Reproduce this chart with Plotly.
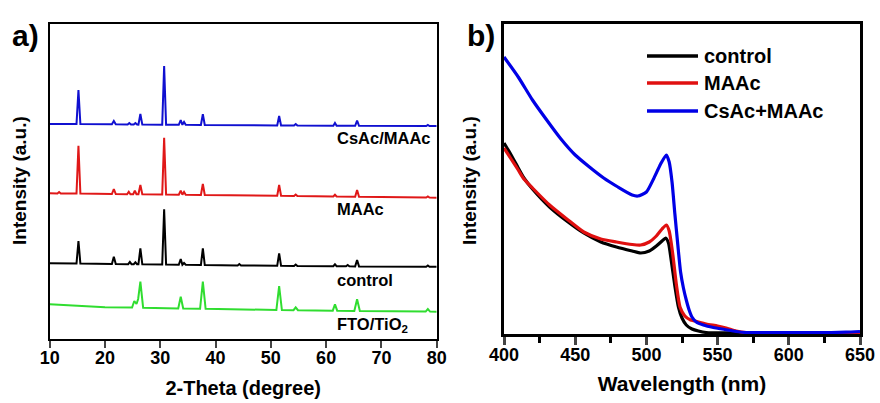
import plotly.graph_objects as go

# ---------------- Panel a: XRD patterns (2-theta, intensity a.u., offset) ----------------
xrd_blue_2theta = [10, 14.85, 15.2, 15.55, 21.25, 21.6, 21.95, 24.1, 24.4, 24.7, 25.2, 25.5, 25.8,
                   26.05, 26.4, 26.75, 30.35, 30.7, 31.05, 33.35, 33.7, 34.0, 34.3, 34.6, 37.35, 37.7,
                   38.05, 51.15, 51.5, 51.85, 54.2, 54.5, 54.8, 61.3, 61.6, 61.9, 65.25, 65.6, 65.95,
                   78.1, 78.4, 78.7, 80]
xrd_blue_int = [215, 215, 249, 215, 214.7, 218, 214.7, 214.5, 216, 214.5, 214.5, 216, 214.5,
                214.4, 225, 214.4, 214.3, 273, 214.3, 214.2, 219, 214.2, 217, 214.2, 214, 224.7,
                214, 213.6, 223, 213.6, 213.5, 215, 213.5, 213.3, 216, 213.3, 213.2, 218.3, 213.2,
                213, 214, 213, 213]

xrd_red_2theta = [10, 11.4, 11.7, 12.0, 14.85, 15.2, 15.55, 21.25, 21.6, 21.95, 24.0, 24.3, 24.6,
                  25.1, 25.4, 25.7, 26.05, 26.4, 26.75, 30.35, 30.7, 31.05, 33.35, 33.7, 34.0, 34.3,
                  34.6, 37.35, 37.7, 38.05, 51.15, 51.5, 51.85, 54.2, 54.5, 54.8, 61.3, 61.6, 61.9,
                  65.25, 65.6, 65.95, 78.1, 78.4, 78.7, 80]
xrd_red_int = [145.7, 145.6, 147, 145.6, 145.4, 193.3, 145.4, 145, 150, 145, 144.8, 147.3, 144.8,
               144.8, 148.3, 144.8, 144.7, 154, 144.7, 144.5, 201.3, 144.5, 144.3, 148.3, 144.3, 147,
               144.3, 144, 155, 144, 143.2, 154, 143.2, 143, 144.5, 143, 142.6, 144.3, 142.6,
               142.3, 149, 142.3, 141.4, 142.5, 141.4, 141.3]

xrd_black_2theta = [10, 14.85, 15.2, 15.55, 21.25, 21.6, 21.95, 24.2, 24.5, 24.8, 25.2, 25.5, 25.8,
                    26.05, 26.4, 26.75, 30.35, 30.7, 31.05, 33.35, 33.7, 34.0, 34.3, 34.6, 37.35,
                    37.7, 38.05, 44.0, 44.3, 44.6, 51.15, 51.5, 51.85, 54.2, 54.5, 54.8, 61.3, 61.6,
                    61.9, 63.6, 63.9, 64.2, 65.25, 65.6, 65.95, 78.1, 78.4, 78.7, 80]
xrd_black_int = [75.7, 75.4, 98, 75.4, 75, 82.3, 75, 74.8, 77, 74.8, 74.8, 76.7, 74.8,
                 74.7, 90.7, 74.7, 74.5, 129.7, 74.5, 74.3, 80, 74.3, 76, 74.3, 74,
                 90.7, 74, 73.6, 75, 73.6, 73.2, 85.7, 73.2, 73, 74.5, 73, 72.8, 74.7,
                 72.8, 72.7, 74, 72.7, 72.6, 79, 72.6, 72.3, 73.5, 72.3, 72.3]

xrd_green_2theta = [10, 15, 20, 24.9, 25.3, 25.7, 26.0, 26.4, 26.9, 33.25, 33.7, 34.15, 37.2, 37.7,
                    38.2, 51.0, 51.5, 52.0, 54.1, 54.5, 54.9, 61.2, 61.6, 62.0, 65.1, 65.6, 66.1,
                    78.0, 78.4, 78.8, 80]
xrd_green_int = [34.7, 33, 31.7, 31.5, 38, 35, 40, 57.3, 31.3, 30.5, 42.3, 30.5, 30.2, 57.3,
                 30.2, 29, 53, 29, 28.8, 31.7, 28.8, 28.3, 34.7, 28.3, 28, 39.7, 28,
                 27.4, 30, 27.4, 27.3]

xrd_labels = ["CsAc/MAAc", "MAAc", "control", "FTO/TiO<sub>2</sub>"]
xrd_label_y = [200.7, 129.7, 59, 14]
xrd_label_x = 61.6

xrd_ticks = [10, 20, 30, 40, 50, 60, 70, 80]

# ---------------- Panel b: absorption spectra ----------------
wl_black = [400, 405, 410, 414, 420, 432, 445, 456, 468, 479, 490, 496, 502, 507, 511, 513.5,
            515.5, 517.5, 520, 522.5, 525, 528, 532, 536.5, 542, 560, 650]
abs_black = [191, 179, 166, 156, 145, 127, 112, 101, 92, 87, 83, 81, 83, 88, 93, 96,
             91, 73, 48, 27, 16, 9, 5, 3, 1.5, 1, 1]

wl_red = [400, 405, 410, 414, 420, 432, 445, 456, 468, 479, 490, 496, 502, 507, 511, 514, 516,
          518.5, 521, 523.6, 527, 531, 534, 542, 550, 556, 563, 570, 600, 650]
abs_red = [186, 175, 164, 155, 146, 129, 114, 102, 95, 92, 89.5, 89, 92, 98, 105, 109, 103,
           80, 50, 27, 18, 14, 13, 10, 8, 6, 3, 1.3, 1, 1]

wl_blue = [400, 410, 420, 430, 440, 450, 460, 470, 480, 490, 494, 500, 505, 510, 514, 516, 518,
           520, 522, 524, 526, 528, 530, 532, 535, 540, 547, 555, 563, 570, 600, 620, 640, 650]
abs_blue = [277, 257, 234, 214, 195, 179, 167, 156, 147, 139, 138, 142, 155, 170, 179, 172, 152,
            120, 90, 62, 46, 34, 24, 17, 12, 9, 6.5, 4.5, 2.5, 1.5, 1.3, 1.3, 1.8, 2.5]

abs_names = ["control", "MAAc", "CsAc+MAAc"]
abs_colors = ["#000000", "#e01010", "#0000e6"]
wl_ticks = [400, 450, 500, 550, 600, 650]

FONT = "Liberation Sans, Arial, sans-serif"

fig = go.Figure()

xrd_sets = [(xrd_blue_2theta, xrd_blue_int, "#1010d0"),
            (xrd_red_2theta, xrd_red_int, "#e01818"),
            (xrd_black_2theta, xrd_black_int, "#000000"),
            (xrd_green_2theta, xrd_green_int, "#30dd30")]
for xs, ys, c in xrd_sets:
    fig.add_trace(go.Scatter(x=xs, y=ys, mode="lines", line=dict(color=c, width=2),
                             showlegend=False, xaxis="x", yaxis="y"))

for xs, ys, name, c in [(wl_black, abs_black, abs_names[0], abs_colors[0]),
                        (wl_red, abs_red, abs_names[1], abs_colors[1]),
                        (wl_blue, abs_blue, abs_names[2], abs_colors[2])]:
    fig.add_trace(go.Scatter(x=xs, y=ys, mode="lines", name=name,
                             line=dict(color=c, width=3.2, shape="spline", smoothing=0.6),
                             showlegend=False, xaxis="x2", yaxis="y2"))

W, H = 880, 403
annotations = []
for txt, yv in zip(xrd_labels, xrd_label_y):
    annotations.append(dict(x=xrd_label_x, y=yv, xref="x", yref="y", text=txt, showarrow=False,
                            xanchor="left", yanchor="middle",
                            font=dict(family=FONT, size=16.5, color="black", weight="bold")))


def px_annot(x, y, text, size, angle=0, xanchor="left"):
    return dict(x=x / W, y=(H - y) / H, xref="paper", yref="paper", text=text, showarrow=False,
                textangle=angle, xanchor=xanchor, yanchor="middle",
                font=dict(family=FONT, size=size, color="black", weight="bold"))


# panel letters
annotations.append(px_annot(10, 36, "a)", 30))
annotations.append(px_annot(465, 36, "b)", 30))
# y axis titles
annotations.append(px_annot(19, 181, "Intensity (a.u.)", 19, angle=-90, xanchor="center"))
annotations.append(px_annot(469, 181, "Intensity (a.u.)", 19, angle=-90, xanchor="center"))

# manual legend for panel b
shapes = []
leg_y = [56, 83, 111]
for name, c, yy in zip(abs_names, abs_colors, leg_y):
    shapes.append(dict(type="line", xref="paper", yref="paper", x0=647 / W, x1=698 / W,
                       y0=(H - yy) / H, y1=(H - yy) / H, line=dict(color=c, width=3.5)))
    annotations.append(px_annot(702, yy, name, 20))

axis_common = dict(showgrid=False, zeroline=False, showline=True, linecolor="black", mirror=True)

fig.update_layout(
    width=W, height=H,
    margin=dict(l=0, r=0, t=0, b=0),
    paper_bgcolor="white", plot_bgcolor="white",
    font=dict(family=FONT, color="black"),
    xaxis=dict(domain=[49.7 / W, 436.7 / W], range=[10, 80], tickvals=xrd_ticks,
               ticks="outside", ticklen=7, tickwidth=2, linewidth=2, ticklabelstandoff=-6,
               tickfont=dict(family=FONT, size=18, weight="bold"),
               title=dict(text="2-Theta (degree)", standoff=14,
                          font=dict(family=FONT, size=20, weight="bold")),
               anchor="y", automargin=False, **axis_common),
    yaxis=dict(domain=[(H - 339) / H, (H - 24) / H], range=[0, 315], showticklabels=False,
               ticks="", linewidth=2, anchor="x", automargin=False, **axis_common),
    xaxis2=dict(domain=[504 / W, 860 / W], range=[400, 650], tickvals=wl_ticks,
                ticks="outside", ticklen=8, tickwidth=2.5, linewidth=3, ticklabelstandoff=-6,
                minor=dict(dtick=25, ticks="outside", ticklen=6, tickwidth=2.5, tickcolor="black"),
                tickfont=dict(family=FONT, size=18, weight="bold"),
                title=dict(text="Wavelength (nm)", standoff=13,
                           font=dict(family=FONT, size=21, weight="bold")),
                anchor="y2", automargin=False, **axis_common),
    yaxis2=dict(domain=[(H - 334) / H, (H - 24) / H], range=[0, 310], showticklabels=False,
                ticks="", linewidth=3, anchor="x2", automargin=False, **axis_common),
    annotations=annotations,
    shapes=shapes,
    showlegend=False,
)

fig.write_html("out.html", config={"displayModeBar": False},
               post_script="document.body.style.margin='0';document.body.style.overflow='hidden';")
